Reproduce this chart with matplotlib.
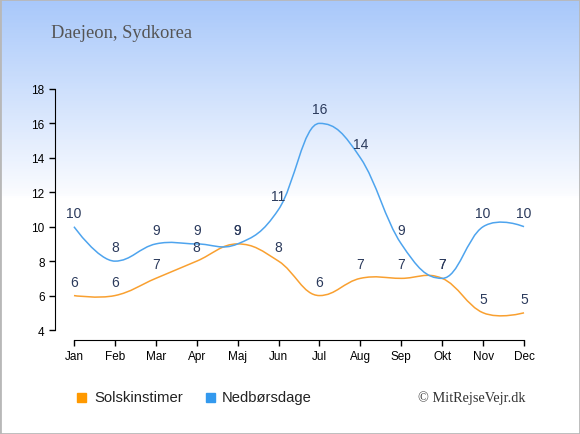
import numpy as np
import matplotlib
matplotlib.use('Agg')
import matplotlib.pyplot as plt
from matplotlib.path import Path
from matplotlib.patches import PathPatch, Rectangle
from matplotlib.colors import LinearSegmentedColormap

# data
months = ['Jan', 'Feb', 'Mar', 'Apr', 'Maj', 'Jun', 'Jul', 'Aug', 'Sep', 'Okt', 'Nov', 'Dec']
sun_hours = [6, 6, 7, 8, 9, 8, 6, 7, 7, 7, 5, 5]
rain_days = [10, 8, 9, 9, 9, 11, 16, 14, 9, 7, 10, 10]

title = 'Daejeon, Sydkorea'
sun_label = 'Solskinstimer'
rain_label = 'Nedbørsdage'
credit = '© MitRejseVejr.dk'

sun_color = '#f9a030'
rain_color = '#4ea4ee'
label_color = '#2b3a5c'


def spline_path(xs, ys, smoothing=1.5):
    # bezier spline through the points, flat tangent at strict peaks/valleys
    n = len(xs)
    verts = [(xs[0], ys[0])]
    codes = [Path.MOVETO]
    left = [None] * n
    right = [None] * n
    for i in range(n):
        x, y = xs[i], ys[i]
        if i == 0 or i == n - 1:
            left[i] = (x, y)
            right[i] = (x, y)
            continue
        d = smoothing + 1
        lx = (smoothing * x + xs[i - 1]) / d
        ly = (smoothing * y + ys[i - 1]) / d
        rx = (smoothing * x + xs[i + 1]) / d
        ry = (smoothing * y + ys[i + 1]) / d
        corr = (ry - ly) * (rx - x) / (rx - lx) + y - ry
        ly += corr
        ry += corr
        prev_y, next_y = ys[i - 1], ys[i + 1]
        if (y > prev_y and y > next_y) or (y < prev_y and y < next_y):
            ly = ry = y
        left[i] = (lx, ly)
        right[i] = (rx, ry)
    for i in range(1, n):
        verts += [right[i - 1], left[i], (xs[i], ys[i])]
        codes += [Path.CURVE4] * 3
    return Path(verts, codes)


plt.rcParams['font.family'] = ['Liberation Sans', 'DejaVu Sans']

fig = plt.figure(figsize=(5.8, 4.35), dpi=100)
W, H = 580, 435

# background gradient
bg = fig.add_axes([0, 0, 1, 1], zorder=-10)
bg.set_axis_off()
cmap = LinearSegmentedColormap.from_list('bg', [(0, '#a8c8fa'), (0.45, '#fbfcff'), (0.455, '#ffffff'), (1, '#ffffff')])
grad = np.linspace(0, 1, 435).reshape(-1, 1)
bg.imshow(grad, aspect='auto', cmap=cmap, extent=[0, 1, 0, 1], origin='upper')
bg.set_xlim(0, 1)
bg.set_ylim(0, 1)
bg.add_patch(Rectangle((0, 0), 1, 1, fill=False, edgecolor='#b8b8b8', lw=2, transform=bg.transAxes))

ax = fig.add_axes([55 / W, (H - 341) / H, (543 - 55) / W, (341 - 86.5) / H])
ax.patch.set_alpha(0)

x = np.arange(len(months))
ax.add_patch(PathPatch(spline_path(x, sun_hours), fill=False, edgecolor=sun_color, lw=1.1))
ax.add_patch(PathPatch(spline_path(x, rain_days), fill=False, edgecolor=rain_color, lw=1.1))

for xi, v in zip(x, sun_hours):
    ax.annotate(str(v), (xi, v), xytext=(0, 5), textcoords='offset points',
                ha='center', va='bottom', fontsize=10, color=label_color)
for xi, v in zip(x, rain_days):
    ax.annotate(str(v), (xi, v), xytext=(0, 5), textcoords='offset points',
                ha='center', va='bottom', fontsize=10, color=label_color)

ax.set_xlim(-0.464, 11.464)
ax.set_ylim(3.42, 18.2)
ax.set_xticks(x)
ax.set_xticklabels(months)
ax.set_yticks(range(4, 19, 2))
ax.spines['top'].set_visible(False)
ax.spines['right'].set_visible(False)
ax.spines['bottom'].set_bounds(0, 11)
ax.spines['left'].set_bounds(4, 18)
ax.tick_params(labelsize=8.5, length=4, width=1, colors='black')

fig.text(51 / W, 1 - 33 / H, title, fontsize=13.3, color='#555555',
         family=['Liberation Serif', 'DejaVu Serif'], va='center', ha='left')

# legend
ly = 1 - 398.5 / H
fig.patches.append(Rectangle((77 / W, 1 - 403 / H), 9 / W, 9 / H, color='#ff9900',
                             transform=fig.transFigure, figure=fig))
fig.text(94 / W, ly, sun_label, fontsize=10.7, va='center', ha='left', color='#222222')
fig.patches.append(Rectangle((206 / W, 1 - 403 / H), 9 / W, 9 / H, color='#3399ee',
                             transform=fig.transFigure, figure=fig))
fig.text(222 / W, ly, rain_label, fontsize=10.6, va='center', ha='left', color='#222222')
fig.text(526 / W, ly, credit, fontsize=10.3, va='center', ha='right', color='#333333',
         family=['Liberation Serif', 'DejaVu Serif'])

fig.savefig('out.png', dpi=100)
